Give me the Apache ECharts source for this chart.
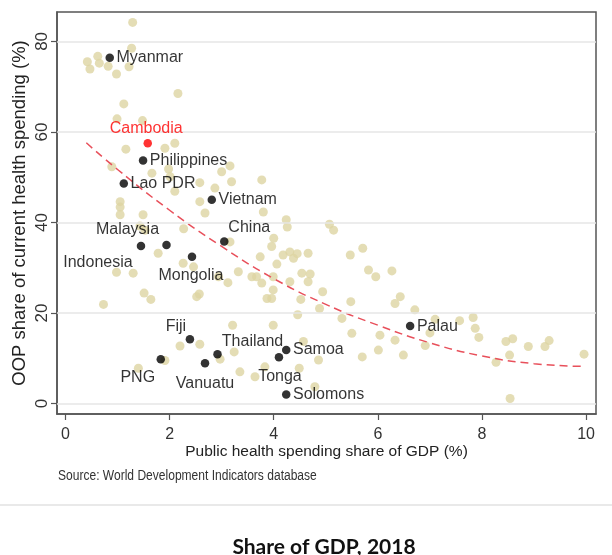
<!DOCTYPE html>
<html>
<head>
<meta charset="utf-8">
<script src="https://cdn.jsdelivr.net/npm/echarts@6/dist/echarts.min.js"></script>
<style>
  html, body { margin: 0; padding: 0; background: #fff; }
  #chart { width: 612px; height: 555px; }
</style>
</head>
<body>
<div id="chart"></div>
<script>
// other countries (beige dots): public health spending % GDP, OOP share %
const otherX = [
  1.29, 1.27, 0.42, 0.47, 0.62, 0.65, 0.82, 0.98, 1.22, 2.16, 1.12, 0.99, 1.48,
  1.16, 1.91, 2.10, 0.89, 1.66, 1.98, 2.01, 2.10, 1.05, 1.05, 1.05, 1.49, 1.43,
  1.53, 1.78, 0.98, 1.30, 3.00, 3.16, 3.19, 3.77, 2.58, 2.87, 2.58, 2.68, 3.80,
  4.24, 4.26, 2.27, 3.16, 4.00, 3.96, 3.74, 4.18, 4.31, 4.38, 4.45, 4.06, 2.26,
  2.46, 3.32, 3.58, 3.67, 2.94, 3.12, 3.77, 4.31, 5.07, 5.15, 4.66, 5.47, 5.71,
  5.82, 5.96, 6.27, 4.54, 4.70, 4.66, 3.99, 3.99, 3.87, 3.96, 6.43, 4.94, 4.52,
  4.88, 5.48, 5.31, 4.46, 6.33, 6.71, 5.50, 6.04, 6.33, 6.91, 3.99, 3.21, 4.57,
  3.24, 4.86, 6.01, 6.49, 5.70, 3.35, 3.83, 3.64, 4.49, 4.79, 7.10, 7.00, 7.57,
  7.83, 7.87, 7.94, 8.46, 8.59, 8.53, 8.89, 9.21, 9.29, 8.27, 9.96, 8.54, 1.51,
  1.64, 0.73, 2.52, 2.57, 2.20, 2.58, 2.97, 1.91, 1.40
];
const otherY = [
  84.2, 78.5, 75.5, 73.9, 76.7, 75.2, 74.5, 72.8, 74.4, 68.5, 66.2, 62.9, 62.5,
  56.2, 56.4, 57.5, 52.3, 50.9, 51.8, 50.1, 46.9, 44.6, 43.4, 41.7, 41.7, 39.2,
  38.3, 33.2, 29.0, 28.8, 51.2, 52.5, 49.0, 49.4, 48.8, 47.6, 44.6, 42.1, 42.3,
  40.6, 39.0, 38.6, 35.7, 36.5, 34.7, 32.4, 32.8, 33.5, 32.1, 33.1, 30.8, 31.0,
  30.2, 29.1, 28.0, 28.0, 28.0, 26.7, 26.6, 26.9, 39.6, 38.3, 33.2, 32.8, 34.3,
  29.5, 28.0, 29.3, 28.8, 28.6, 26.9, 28.0, 25.1, 23.2, 23.2, 23.6, 24.7, 23.0,
  21.0, 22.5, 18.8, 19.6, 22.1, 20.7, 15.5, 15.1, 14.0, 12.8, 17.3, 17.3, 13.7,
  11.4, 9.6, 11.8, 10.7, 10.3, 7.0, 8.1, 5.9, 7.8, 3.7, 18.6, 15.6, 18.3,
  19.0, 16.6, 14.6, 13.7, 14.3, 10.7, 12.6, 12.6, 13.9, 9.1, 10.9, 1.1, 24.4,
  23.0, 21.9, 23.6, 24.2, 12.7, 13.1, 9.8, 9.5, 7.8
];

// highlighted Asia-Pacific countries (black dots)
const hlNames = ["Myanmar", "Philippines", "Lao PDR", "Vietnam", "Indonesia", "Malaysia",
  "China", "Mongolia", "Fiji", "Thailand", "PNG", "Vanuatu", "Samoa", "Tonga", "Solomons", "Palau"];
const hlX = [0.85, 1.49, 1.12, 2.81, 1.45, 1.94, 3.05, 2.43, 2.39, 2.92, 1.83, 2.68, 4.24, 4.10, 4.24, 6.62];
const hlY = [76.4, 53.7, 48.6, 45.0, 34.8, 35.0, 35.8, 32.4, 14.2, 10.9, 9.8, 8.9, 11.8, 10.2, 2.0, 17.1];

const focusName = "Cambodia";
const focusX = 1.58;
const focusY = 57.5;

// fitted curve
const fitX = [0.4, 1, 2, 3, 4, 5, 6, 7, 8, 9, 9.95];
const fitY = [57.6, 51.7, 42.7, 34.7, 27.6, 21.9, 17.3, 13.4, 10.5, 8.8, 8.2];

const xTicks = [0, 2, 4, 6, 8, 10];
const yTicks = [0, 20, 40, 60, 80];

const xTitle = "Public health spending share of GDP (%)";
const yTitle = "OOP share of current health spending (%)";
const chartTitle = "Share of GDP, 2018";
const sourceNote = "Source: World Development Indicators database";

// where each label sits relative to its dot (centre offset in px); others sit to the right
const labelShift = {
  Cambodia: [-1.5, -15],
  Indonesia: [-43, 17],
  Malaysia: [-39, -15],
  China: [25, -14],
  Mongolia: [-1, 19],
  Fiji: [-14, -13],
  Thailand: [35, -13],
  PNG: [-23, 18],
  Vanuatu: [0, 20],
  Tonga: [1, 19],
};

const FONT = "'Liberation Sans', Arial, sans-serif";
const frame = "#555";

function pointLabel(name, color) {
  const base = {
    show: true, formatter: name, color, fontSize: 16, fontFamily: FONT,
    textBorderWidth: 0, textShadowBlur: 0,
  };
  const s = labelShift[name];
  if (s) return { ...base, position: "inside", offset: s };
  return { ...base, position: "right", distance: 2.5 };
}

const chart = echarts.init(document.getElementById("chart"), null, { renderer: "canvas" });

const option = {
  animation: false,
  backgroundColor: "#fff",
  title: {
    text: chartTitle,
    left: 319,
    top: 532,
    textAlign: "center",
    textStyle: { fontFamily: "Lato, 'Open Sans', sans-serif", fontWeight: "bold", fontSize: 21, color: "#111" },
  },
  graphic: [
    { type: "line", shape: { x1: 0, y1: 505, x2: 612, y2: 505 }, style: { stroke: "#e2e2e2", lineWidth: 1.5 }, silent: true },
    {
      // source note, squeezed like the original export
      type: "text",
      x: 58,
      y: 469,
      scaleX: 0.86,
      silent: true,
      style: { text: sourceNote, fill: "#333", font: "14px 'Liberation Sans', Arial, sans-serif" },
    },
  ],
  grid: {
    left: 57, right: 16, top: 12, bottom: 141,
    outerBoundsMode: "none",
    containLabel: false,
    show: true, borderColor: frame, borderWidth: 1.5, backgroundColor: "#fff",
  },
  xAxis: {
    type: "value",
    min: -0.163,
    max: 10.19,
    name: xTitle,
    nameLocation: "middle",
    nameGap: 30,
    nameMoveOverlap: false,
    nameTextStyle: { fontFamily: FONT, fontSize: 15.5, color: "#222" },
    axisLine: { show: true, onZero: false, lineStyle: { color: frame, width: 1.5 } },
    axisTick: { show: true, length: 6, customValues: xTicks, lineStyle: { color: frame, width: 1.2 } },
    axisLabel: { customValues: xTicks, margin: 13, fontFamily: FONT, fontSize: 16, color: "#333" },
    splitLine: { show: false },
  },
  yAxis: {
    type: "value",
    min: -2.32,
    max: 86.5,
    name: yTitle,
    nameLocation: "middle",
    nameGap: 28,
    nameMoveOverlap: false,
    nameTextStyle: { fontFamily: FONT, fontSize: 18.5, color: "#222" },
    axisLine: { show: true, onZero: false, lineStyle: { color: frame, width: 1.5 } },
    axisTick: { show: true, length: 6, customValues: yTicks, lineStyle: { color: frame, width: 1.2 } },
    axisLabel: { customValues: yTicks, rotate: 90, margin: 6.5, fontFamily: FONT, fontSize: 17, color: "#333" },
    splitLine: { show: false },
  },
  series: [
    {
      // horizontal grid lines
      type: "line",
      data: [],
      z: 1,
      silent: true,
      markLine: {
        silent: true,
        symbol: "none",
        label: { show: false },
        lineStyle: { color: "#e6e6e6", width: 1.5, type: "solid" },
        data: yTicks.map((v) => ({ yAxis: v })),
      },
    },
    {
      name: "others",
      type: "scatter",
      z: 2,
      symbolSize: 9,
      itemStyle: { color: "#ddd4a3" },
      data: otherX.map((x, i) => [x, otherY[i]]),
    },
    {
      name: "fit",
      type: "line",
      z: 3,
      smooth: true,
      showSymbol: false,
      symbol: "none",
      lineStyle: { color: "#e8505b", width: 1.5, type: [8, 5] },
      data: fitX.map((x, i) => [x, fitY[i]]),
    },
    {
      name: "highlight",
      type: "scatter",
      z: 10,
      symbolSize: 8.5,
      itemStyle: { color: "#000" },
      data: hlNames.map((n, i) => ({ name: n, value: [hlX[i], hlY[i]], label: pointLabel(n, "#000") })),
    },
    {
      name: "focus",
      type: "scatter",
      z: 10,
      symbolSize: 8.5,
      itemStyle: { color: "#ff0000" },
      data: [{ name: focusName, value: [focusX, focusY], label: pointLabel(focusName, "#ff0000") }],
    },
  ],
};

chart.setOption(option);
</script>
</body>
</html>
